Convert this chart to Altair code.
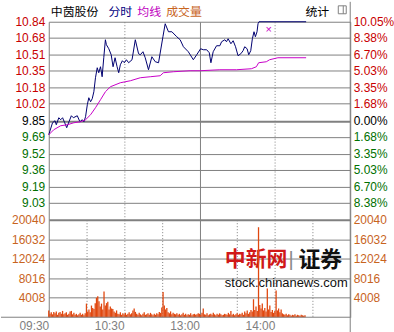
import altair as alt
import pandas as pd

# ---------------- data ----------------
prev_close = 9.85

price_min = [0, 3, 5, 6, 8, 9.5, 11, 12.7, 14.3, 16.1, 18, 19.6, 22.7, 24.8, 26.7, 28, 29.3,
             30.7, 31.9, 33.3, 34.6, 35.9, 37.2, 38.6, 39.8, 41.2, 42.5, 43.8, 45.1, 45.9, 47.8,
             49.7, 51.2, 52.8, 54.4, 55.7, 57, 58.6, 60.2, 61.8, 63.6, 66.3, 68.9, 71.5, 72.9,
             75, 76.8, 79.4, 82.1, 84.8, 87.4, 90.9, 92.7, 95.3, 98, 101.9, 104.6, 107.2, 111.1,
             115.1, 117.8, 120.9, 123, 125.7, 127.8, 129.1, 130.9, 133.6, 136.2, 137.6, 140.2,
             141.5, 142.8, 145, 146.8, 148.7, 150.7, 152.9, 154.7, 156, 157.9, 159.2, 160.8,
             162.1, 163.4, 164.5, 165.8, 166.6, 167.4, 204.9]
price_val = [9.71, 9.83, 9.85, 9.81, 9.88, 9.86, 9.88, 9.83, 9.78, 9.84, 9.90, 9.88, 9.90, 9.84,
             9.86, 9.84, 9.89, 10.01, 10.08, 10.04, 10.07, 10.14, 10.28, 10.38, 10.33, 10.39,
             10.29, 10.48, 10.66, 10.61, 10.57, 10.51, 10.39, 10.48, 10.39, 10.33, 10.41, 10.45,
             10.43, 10.46, 10.43, 10.46, 10.66, 10.52, 10.51, 10.54, 10.48, 10.36, 10.49, 10.44,
             10.43, 10.69, 10.82, 10.74, 10.74, 10.69, 10.66, 10.59, 10.54, 10.46, 10.51, 10.57,
             10.56, 10.56, 10.53, 10.43, 10.54, 10.60, 10.60, 10.64, 10.66, 10.64, 10.67, 10.62,
             10.65, 10.59, 10.50, 10.52, 10.55, 10.59, 10.57, 10.51, 10.55, 10.67, 10.74, 10.69,
             10.74, 10.82, 10.84, 10.84]

avg_min = [0, 4, 9.5, 14.8, 20, 25.3, 29.3, 33.3, 37.2, 41.2, 45.1, 49.1, 57, 65, 72.9, 80.8,
           88.7, 91.3, 99.2, 112.5, 120.4, 136.2, 149.5, 161.3, 165.3, 167.1, 173.2, 175.8,
           182.4, 204.9]
avg_val = [9.71, 9.76, 9.80, 9.81, 9.83, 9.84, 9.86, 9.91, 9.98, 10.06, 10.14, 10.19, 10.23,
           10.25, 10.28, 10.29, 10.30, 10.33, 10.34, 10.35, 10.35, 10.36, 10.36, 10.37, 10.39,
           10.43, 10.44, 10.46, 10.48, 10.48]

marker_min = [175]
marker_val = [10.76]

volume = [
    # 09:30 - 10:00
    1400, 700, 1000, 600, 1100, 800, 1200, 500, 900, 1100, 700, 1300, 600, 800, 1000,
    500, 700, 1200, 1300, 600, 900, 500, 700, 400, 600, 900, 500, 700, 400, 800,
    # 10:00 - 10:20
    2800, 1200, 1600, 1000, 2400, 1900, 1700, 2900, 4000, 4300, 3300, 2200, 2800, 1600,
    5300, 2400, 2900, 3200, 1600, 2200, 1800,
    # 10:21 - 10:59
    1700, 1200, 900, 1400, 700, 600, 1000, 500, 800, 600, 900, 500, 700, 1000, 600,
    800, 1400, 1800, 1100, 700, 500, 900, 600, 400, 700, 1000, 500, 600, 800, 500,
    900, 600, 400, 700, 500, 800, 600, 1100, 900,
    # 11:00 - 11:10
    2000, 5200, 2400, 1600, 1900, 1000, 800, 1200, 600, 900, 700,
    # 11:11 - 11:29
    600, 800, 500, 700, 400, 600, 900, 500, 700, 400, 600, 500, 800, 400, 600, 700,
    500, 600, 800,
    # 13:00 - 13:40
    700, 500, 900, 1800, 600, 500, 800, 400, 600, 700, 500, 900, 600, 400, 700, 500,
    800, 600, 400, 500, 700, 600, 500, 900, 600, 1300, 500, 700, 400, 600, 800, 500,
    700, 600, 900, 500, 1200, 800, 1400, 700, 1000,
    # 13:41 - 14:04
    1500, 1200, 3700, 1500, 2200, 1300, 18500, 2500, 1800, 2800, 1400, 1900, 1200, 5900,
    1600, 2400, 1100, 1500, 900, 1300, 5500, 1400, 1800, 1000,
    # 14:05 - 14:24
    1600, 800, 600, 500, 700, 400, 600, 500, 300, 500, 400, 600, 300, 500, 400, 300,
    500, 400, 300, 400,
]
volume_min = list(range(len(volume)))

price_ticks = [10.84, 10.68, 10.51, 10.35, 10.18, 10.02, 9.85, 9.69, 9.52, 9.36, 9.19, 9.03]
pct_labels = ["10.05%", "8.38%", "6.70%", "5.03%", "3.35%", "1.68%", "0.00%",
              "1.68%", "3.35%", "5.03%", "6.70%", "8.38%"]
vol_ticks = [20040, 16032, 12024, 8016, 4008]
time_ticks = [0, 30, 60, 90, 120, 150, 180, 210, 240]
time_labels = ["09:30", "", "10:30", "", "13:00", "", "14:00", "", ""]

header_texts = ["中茵股份", "分时", "均线", "成交量", "统计"]
watermark_texts = ["中新网", "|", "证券", "stock.chinanews.com"]

# ---------------- styling ----------------
W, HP, HV = 303, 199, 98
FONT = "Liberation Sans"
CJK = "Noto Sans CJK SC"
RED = "#c80000"
GREEN = "#007000"
ORANGE = "#c8641e"
GRID = "#808080"
NAVY = "#000070"
MAGENTA = "#c800c8"
BAR = "#e04810"

df_price = pd.DataFrame({"m": price_min, "p": price_val})
df_avg = pd.DataFrame({"m": avg_min, "p": avg_val})
df_mark = pd.DataFrame({"m": marker_min, "p": marker_val})
df_vol = pd.DataFrame({"m": volume_min, "v": volume})
df_vt = pd.DataFrame({"v": vol_ticks})

xscale = alt.Scale(domain=[0, 240], nice=False, zero=False)
pscale = alt.Scale(domain=[8.86, 10.84], nice=False, zero=False)
vscale = alt.Scale(domain=[0, 20040], nice=False, zero=True)

grid_dash = {"condition": {"test": "datum.value == 0 || datum.value == 120 || datum.value == 240",
                           "value": []}, "value": [1, 2]}

price_label_color = {"condition": [{"test": "datum.value > 9.86", "value": RED},
                                   {"test": "datum.value < 9.84", "value": GREEN}],
                     "value": "#000000"}

tick_arr = "[" + ",".join(str(v) for v in price_ticks) + "]"
pct_arr = "[" + ",".join("'" + s + "'" for s in pct_labels) + "]"
tt_arr = "[" + ",".join(str(v) for v in time_ticks) + "]"
tl_arr = "[" + ",".join("'" + s + "'" for s in time_labels) + "]"

x_top = alt.X("m:Q", scale=xscale,
              axis=alt.Axis(values=time_ticks, labels=False, ticks=False, domain=False,
                            grid=True, gridColor=GRID, gridDash=grid_dash, title=None))

left_axis = alt.Axis(values=price_ticks, title=None, ticks=False, domain=False, grid=True,
                     gridColor=GRID,
                     gridWidth={"condition": {"test": "datum.value == 9.85", "value": 2},
                                "value": 1},
                     labelFont=FONT, labelFontSize=12, labelPadding=4, format=".2f",
                     labelColor=price_label_color)
right_axis = alt.Axis(values=price_ticks, orient="right", title=None, ticks=False,
                      domain=False, grid=False, labelFont=FONT, labelFontSize=12,
                      labelPadding=3, labelColor=price_label_color,
                      labelExpr=pct_arr + "[indexof(" + tick_arr + ", datum.value)]")

price_line = alt.Chart(df_price).mark_line(color=NAVY, strokeWidth=1).encode(
    x=x_top, y=alt.Y("p:Q", scale=pscale, axis=left_axis))
avg_line = alt.Chart(df_avg).mark_line(color=MAGENTA, strokeWidth=1).encode(
    x=alt.X("m:Q", scale=xscale), y=alt.Y("p:Q", scale=pscale, axis=right_axis))
marker = alt.Chart(df_mark).mark_text(text="×", color=MAGENTA, fontSize=11, font=FONT).encode(
    x=alt.X("m:Q", scale=xscale), y=alt.Y("p:Q", scale=pscale, axis=None))

hdr_x = [2, 60, 89, 118, 258]
hdr_col = ["#000000", "#000080", "#c000c0", ORANGE, "#000000"]
header_layers = []
for t, hx, c in zip(header_texts, hdr_x, hdr_col):
    header_layers.append(
        alt.Chart(pd.DataFrame({"t": [t]})).mark_text(
            align="left", baseline="middle", font=CJK, fontSize=12, color=c
        ).encode(text="t:N", x=alt.value(hx), y=alt.value(-10)))

icon = alt.Chart(pd.DataFrame({"a": [0]})).mark_rect(
    fill="white", stroke="#808080", strokeWidth=1).encode(
    x=alt.value(291), x2=alt.value(299), y=alt.value(-16), y2=alt.value(-8))
icon_bar = alt.Chart(pd.DataFrame({"a": [0]})).mark_rule(color="#808080").encode(
    x=alt.value(296), y=alt.value(-16), y2=alt.value(-8))
right_border_top = alt.Chart(pd.DataFrame({"a": [0]})).mark_rule(color=GRID).encode(
    x=alt.value(W), y=alt.value(-20), y2=alt.value(HP))

price_chart = alt.layer(
    right_border_top, price_line, avg_line, marker, *header_layers, icon, icon_bar
).resolve_scale(y="independent").properties(width=W, height=HP)

# ---------------- volume panel ----------------
x_bottom = alt.X("m:Q", scale=xscale,
                 axis=alt.Axis(values=time_ticks, ticks=False, domain=False, grid=True,
                               gridColor=GRID, gridDash=grid_dash, title=None,
                               labelExpr=tl_arr + "[indexof(" + tt_arr + ", datum.value)]",
                               labelAlign="right", labelPadding=3,
                               labelFont=FONT, labelFontSize=12, labelColor=GRID,
                               labelOverlap=False, labelFlush=False))
vol_left = alt.Axis(values=vol_ticks, title=None, ticks=False, domain=False, grid=True,
                    gridColor=GRID,
                    gridWidth={"condition": {"test": "datum.value == 20040", "value": 2},
                               "value": 1},
                    labelFont=FONT, labelFontSize=12, labelPadding=4, labelColor=ORANGE,
                    format="d")
vol_right = alt.Axis(values=vol_ticks, orient="right", title=None, ticks=False, domain=False,
                     grid=False, labelFont=FONT, labelFontSize=12, labelPadding=3,
                     labelColor=ORANGE, format="d")

wm_specs = [
    (watermark_texts[0], 177, 41, CJK, 21, "bold", "#d01818"),
    (watermark_texts[1], 241, 41, FONT, 20, "normal", "#888888"),
    (watermark_texts[2], 251, 41, CJK, 22, "bold", "#101010"),
    (watermark_texts[3], 177, 64, FONT, 13, "normal", "#101010"),
]
wm_layers = []
for t, wx, wy, f, fs, fw, c in wm_specs:
    wm_layers.append(
        alt.Chart(pd.DataFrame({"t": [t]})).mark_text(
            align="left", baseline="middle", font=f, fontSize=fs, fontWeight=fw, color=c
        ).encode(text="t:N", x=alt.value(wx), y=alt.value(wy)))

bars = alt.Chart(df_vol).mark_rule(color=BAR, strokeWidth=1.3).encode(
    x=x_bottom, y=alt.Y("v:Q", scale=vscale, axis=vol_left), y2=alt.datum(0))
vol_right_layer = alt.Chart(df_vt).mark_point(opacity=0).encode(
    x=alt.value(0), y=alt.Y("v:Q", scale=vscale, axis=vol_right))
bottom_line = alt.Chart(pd.DataFrame({"a": [0]})).mark_rule(color=GRID).encode(
    x=alt.value(-48), x2=alt.value(W), y=alt.value(HV))
right_border_bot = alt.Chart(pd.DataFrame({"a": [0]})).mark_rule(color=GRID).encode(
    x=alt.value(W), y=alt.value(0), y2=alt.value(HV + 15))

vol_chart = alt.layer(
    *wm_layers, bars, vol_right_layer, bottom_line, right_border_bot
).resolve_scale(y="independent").properties(width=W, height=HV)

chart = alt.vconcat(price_chart, vol_chart, spacing=0, bounds="flush").properties(
    padding=0, background="white"
).configure_view(stroke=None)

chart.save("out.html", embed_options={"renderer": "svg", "actions": False})
